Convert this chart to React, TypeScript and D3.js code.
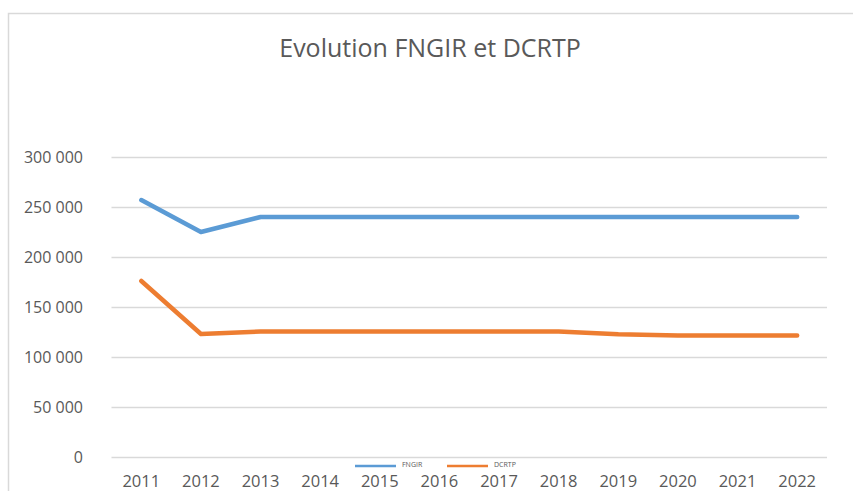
import React, { useEffect, useRef } from "react";
import * as d3 from "d3";

const years = ["2011", "2012", "2013", "2014", "2015", "2016", "2017", "2018", "2019", "2020", "2021", "2022"];
const fngir = [257000, 225000, 240000, 240000, 240000, 240000, 240000, 240000, 240000, 240000, 240000, 240000];
const dcrtp = [176000, 123000, 125500, 125500, 125500, 125500, 125500, 125500, 122800, 121500, 121500, 121500];
const yTicks = [0, 50000, 100000, 150000, 200000, 250000, 300000];
const seriesNames = ["FNGIR", "DCRTP"];
const seriesColors = ["#5b9bd5", "#ed7d31"];

const App = () => {
  const chartRef = useRef<SVGSVGElement | null>(null);

  useEffect(() => {
    const width = 853;
    const height = 491;
    const svg = d3.select(chartRef.current);
    svg.selectAll("*").remove();

    const font = "'Open Sans', sans-serif";
    const textColor = "#595959";

    // chart frame (cropped on right and bottom)
    svg
      .append("rect")
      .attr("x", 8.5)
      .attr("y", 13.5)
      .attr("width", width + 20)
      .attr("height", height + 20)
      .attr("fill", "#fff")
      .attr("stroke", "#d9d9d9")
      .attr("stroke-width", 1.5);

    const x = d3.scaleBand().domain(years).range([111.5, 827]);
    const y = d3.scaleLinear().domain([0, 300000]).range([457, 157]);

    const fmt = (v: number) => d3.format(",")(v).replace(/,/g, " ");

    // gridlines
    svg
      .append("g")
      .selectAll("line")
      .data(yTicks)
      .enter()
      .append("line")
      .attr("x1", 111.5)
      .attr("x2", 827)
      .attr("y1", (d) => Math.round(y(d)) + 0.5)
      .attr("y2", (d) => Math.round(y(d)) + 0.5)
      .attr("stroke", "#d9d9d9")
      .attr("stroke-width", 1.3);

    // y labels
    svg
      .append("g")
      .selectAll("text")
      .data(yTicks)
      .enter()
      .append("text")
      .attr("x", 83)
      .attr("y", (d) => y(d) + 5.5)
      .attr("text-anchor", "end")
      .style("font-family", font)
      .style("font-size", "16px")
      .style("fill", textColor)
      .text((d) => fmt(d));

    // x labels
    svg
      .append("g")
      .selectAll("text")
      .data(years)
      .enter()
      .append("text")
      .attr("x", (d) => (x(d) as number) + x.bandwidth() / 2)
      .attr("y", 486.5)
      .attr("text-anchor", "middle")
      .style("font-family", font)
      .style("font-size", "16.5px")
      .style("fill", textColor)
      .text((d) => d);

    // lines
    const line = d3
      .line<number>()
      .x((d, i) => (x(years[i]) as number) + x.bandwidth() / 2)
      .y((d) => y(d));

    [fngir, dcrtp].forEach((values, i) => {
      svg
        .append("path")
        .datum(values)
        .attr("d", line)
        .attr("fill", "none")
        .attr("stroke", seriesColors[i])
        .attr("stroke-width", 4.5)
        .attr("stroke-linecap", "round")
        .attr("stroke-linejoin", "round");
    });

    // legend
    const legendX = [355, 447];
    seriesNames.forEach((name, i) => {
      svg
        .append("line")
        .attr("x1", legendX[i])
        .attr("x2", legendX[i] + 41)
        .attr("y1", 466)
        .attr("y2", 466)
        .attr("stroke", seriesColors[i])
        .attr("stroke-width", 2.5);
      svg
        .append("text")
        .attr("x", legendX[i] + 47)
        .attr("y", 467)
        .style("font-family", font)
        .style("font-size", "7px")
        .style("fill", textColor)
        .text(name);
    });

    // title
    svg
      .append("text")
      .attr("x", 430)
      .attr("y", 57)
      .attr("text-anchor", "middle")
      .style("font-family", font)
      .style("font-size", "25px")
      .style("fill", textColor)
      .text("Evolution  FNGIR et DCRTP");
  }, []);

  return (
    <svg
      ref={chartRef}
      width={853}
      height={491}
      style={{ position: "absolute", left: 0, top: 0 }}
    ></svg>
  );
};

export default App;
